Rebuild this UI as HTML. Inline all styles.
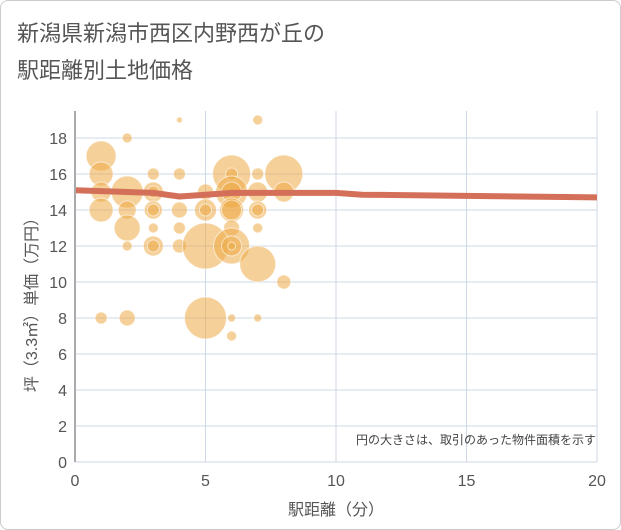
<!DOCTYPE html>
<html><head><meta charset="utf-8"><style>
body{margin:0;background:#fff;font-family:"Liberation Sans","Noto Sans CJK JP",sans-serif}
#wrap{position:relative;width:619px;height:528px;border:1px solid #ccc;border-radius:8px;overflow:hidden}
</style></head><body>
<div id="wrap">
<svg id="c" width="619" height="528" xmlns="http://www.w3.org/2000/svg">
<text x="16" y="40" font-size="22" fill="#555">新潟県新潟市西区内野西が丘の</text>
<text x="16" y="77" font-size="22" fill="#555">駅距離別土地価格</text>
<g id="grid"></g><g id="bubbles"></g><g id="trend"></g><g id="axes"></g>
<text x="595" y="443" font-size="12" fill="#444" text-anchor="end">円の大きさは、取引のあった物件面積を示す</text>
<text x="335" y="514" font-size="16" fill="#555" text-anchor="middle">駅距離（分）</text>
<text transform="translate(36,300) rotate(-90)" font-size="16" fill="#555" text-anchor="middle">坪（3.3㎡）単価（万円）</text>
</svg></div>
<script>
const xTicks=[0,5,10,15,20];
const yTicks=[0,2,4,6,8,10,12,14,16,18];
const bx=[1,1,1,1,1,2,2,2,2,2,2,3,3,3,3,3,3,3,3,4,4,4,4,4,5,5,5,5,5,6,6,6,6,6,6,6,6,6,6,6,6,7,7,7,7,7,7,7,7,8,8,8];
const by=[17,16,15,14,8,18,15,14,13,12,8,16,15,15,14,14,13,12,12,19,16,14,13,12,15,14,14,12,8,16,16,15,15,14,14,13,12,12,12,8,7,19,16,15,14,14,13,11,8,16,15,10];
const bs=[15,12,10,12,6,5,16,9,13,5,8,6,10,6,9,6,5,10,6,3,6,8,6,7,8,11,6,23,21,19,6,16,10,12,10,8,18,10,4,4,5,5,6,10,9,6,5,18,4,19,10,7];
const tx=[0,1,2,3,4,5,6,10,11,20];
const ty=[15.1,15.05,15,14.95,14.75,14.85,14.95,14.95,14.85,14.7];
const X=v=>74+v*26.1, Y=v=>461-v*18;
const NS="http://www.w3.org/2000/svg";
function mk(t,a,p){const e=document.createElementNS(NS,t);for(const k in a)e.setAttribute(k,a[k]);p.appendChild(e);return e;}
const grid=document.getElementById('grid'),axes=document.getElementById('axes'),bub=document.getElementById('bubbles'),tr=document.getElementById('trend');
yTicks.forEach(v=>{const l=mk('line',{x1:74,x2:596,y1:Y(v),y2:Y(v),stroke:'#cdd8e6','stroke-width':1},grid);


const t=mk('text',{x:66,y:Y(v)+6,'font-size':16,fill:'#555','text-anchor':'end'},axes);t.textContent=v;

});
xTicks.forEach(v=>{const l=mk('line',{x1:X(v),x2:X(v),y1:110,y2:461,stroke:'#cdd8e6','stroke-width':1},grid);


const t=mk('text',{x:X(v),y:485,'font-size':16,fill:'#555','text-anchor':'middle'},axes);t.textContent=v;

});
const ax=mk('line',{x1:74,x2:74,y1:110,y2:461,stroke:'#aaa','stroke-width':2},axes);


bx.forEach((v,i)=>{const c=mk('circle',{cx:X(v),cy:Y(by[i]),r:bs[i],fill:'rgba(236,170,70,0.55)',stroke:'rgba(255,255,255,0.6)','stroke-width':1},bub);

});
const p=mk('polyline',{points:tx.map((v,i)=>X(v)+','+Y(ty[i])).join(' '),fill:'none',stroke:'#d4705a','stroke-width':6,'stroke-linejoin':'round'},tr);


</script></body></html>
